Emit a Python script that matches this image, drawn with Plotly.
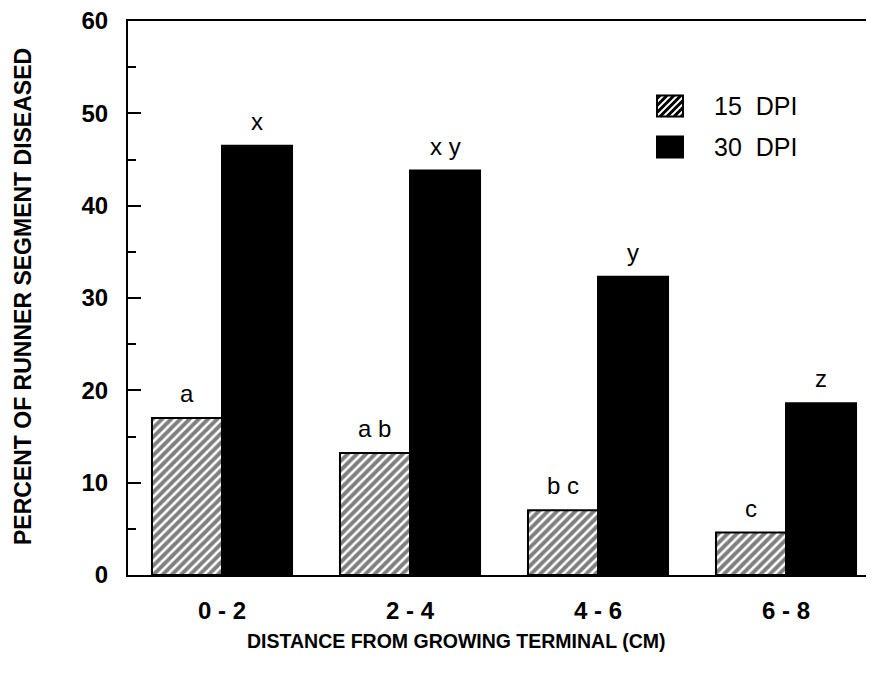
import plotly.graph_objects as go

categories = ["0 - 2", "2 - 4", "4 - 6", "6 - 8"]
dpi15 = [17.0, 13.2, 7.0, 4.6]
dpi30 = [46.5, 43.8, 32.3, 18.6]
letters15 = ["a", "a b", "b c", "c"]
letters30 = ["x", "x y", "y", "z"]
series_names = ["15 DPI", "30 DPI"]
y_ticks = [0, 10, 20, 30, 40, 50, 60]

# page body has an 8px default margin; work in window pixel coords
OX, OY = 8, 8
WIN_W, WIN_H = 874, 673
W, H = WIN_W - OX, WIN_H - OY
PLOT_L, PLOT_R, PLOT_T, PLOT_B = 128, 874, 21, 575  # window coords
L = PLOT_L - OX
R = WIN_W - PLOT_R
T = PLOT_T - OY
B = H - (PLOT_B - OY)
PW, PH = W - L - R, H - T - B

def px(x):
    return (x - PLOT_L) / PW

def py(y):
    return (PLOT_B - y) / PH

BARGAP = 0.255
half = (1 - BARGAP) / 4.0

FONT = "Liberation Sans, Arial, Helvetica, sans-serif"

fig = go.Figure()
fig.add_trace(go.Bar(
    x=list(range(len(categories))), y=dpi15, name=series_names[0],
    marker=dict(color="white", line=dict(color="black", width=2),
                pattern=dict(shape="/", size=6.5, solidity=0.6,
                             fgcolor="black", bgcolor="white", fillmode="overlay")),
    showlegend=False,
))
fig.add_trace(go.Bar(
    x=list(range(len(categories))), y=dpi30, name=series_names[1],
    marker=dict(color="black", line=dict(color="black", width=2)),
    showlegend=False,
))

annotations = []
for i in range(len(categories)):
    annotations.append(dict(x=i - half, y=dpi15[i], xref="x", yref="y", text=letters15[i],
                            showarrow=False, yanchor="bottom", yshift=9,
                            font=dict(family=FONT, size=24, color="black")))
    annotations.append(dict(x=i + half, y=dpi30[i], xref="x", yref="y", text=letters30[i],
                            showarrow=False, yanchor="bottom", yshift=9,
                            font=dict(family=FONT, size=24, color="black")))

annotations.append(dict(x=px(456), y=py(641), xref="paper", yref="paper",
                        text="DISTANCE FROM GROWING TERMINAL (CM)", showarrow=False,
                        xanchor="center", yanchor="middle",
                        font=dict(family=FONT, size=19.5, color="black", weight="bold")))
annotations.append(dict(x=px(23), y=py(297), xref="paper", yref="paper",
                        text="PERCENT OF RUNNER SEGMENT DISEASED", showarrow=False, textangle=-90,
                        xanchor="center", yanchor="middle",
                        font=dict(family=FONT, size=23, color="black", weight="bold")))

shapes = []
sw_x0, sw_x1 = 657, 683
legend_rows = [(106, True), (147, False)]
for (cy, hatched), name in zip(legend_rows, series_names):
    y0, y1 = cy - 10.5, cy + 10.5
    shapes.append(dict(type="rect", xref="paper", yref="paper",
                       x0=px(sw_x0), x1=px(sw_x1), y0=py(y1), y1=py(y0),
                       fillcolor="black" if not hatched else "white",
                       line=dict(color="black", width=2)))
    if hatched:
        step = 7
        c = sw_x0 + y0 + 3
        while c < sw_x1 + y1:
            xa = max(sw_x0, c - y1)
            xb = min(sw_x1, c - y0)
            if xa < xb:
                shapes.append(dict(type="line", xref="paper", yref="paper",
                                   x0=px(xa), y0=py(c - xa),
                                   x1=px(xb), y1=py(c - xb),
                                   line=dict(color="black", width=3)))
            c += step
    annotations.append(dict(x=px(712), y=py(cy), xref="paper", yref="paper",
                            text=name.replace(" ", "\u00a0 "), showarrow=False,
                            xanchor="left", yanchor="middle",
                            font=dict(family=FONT, size=25, color="black")))

fig.update_layout(
    width=W, height=H,
    margin=dict(l=L, r=R, t=T, b=B, pad=0),
    paper_bgcolor="white", plot_bgcolor="white",
    barmode="group", bargap=BARGAP, bargroupgap=0,
    showlegend=False,
    annotations=annotations,
    shapes=shapes,
    xaxis=dict(
        tickmode="array", tickvals=list(range(len(categories))), ticktext=categories,
        range=[-0.5, 3.468], showline=True, mirror=True, linecolor="black", linewidth=2,
        showgrid=False, zeroline=False, ticks="", ticklabelstandoff=13,
        tickfont=dict(family=FONT, size=24, color="black", weight="bold"),
    ),
    yaxis=dict(
        range=[0, 60], tickvals=y_ticks, showline=True, linecolor="black", linewidth=2,
        showgrid=False, zeroline=False, ticks="inside", ticklen=13, tickwidth=2, tickcolor="black",
        minor=dict(dtick=5, ticks="inside", ticklen=8, tickwidth=2, tickcolor="black", showgrid=False),
        ticklabelstandoff=13, ticklabeloverflow="allow",
        tickfont=dict(family=FONT, size=24, color="black", weight="bold"),
    ),
)

fig.write_html("out.html")
